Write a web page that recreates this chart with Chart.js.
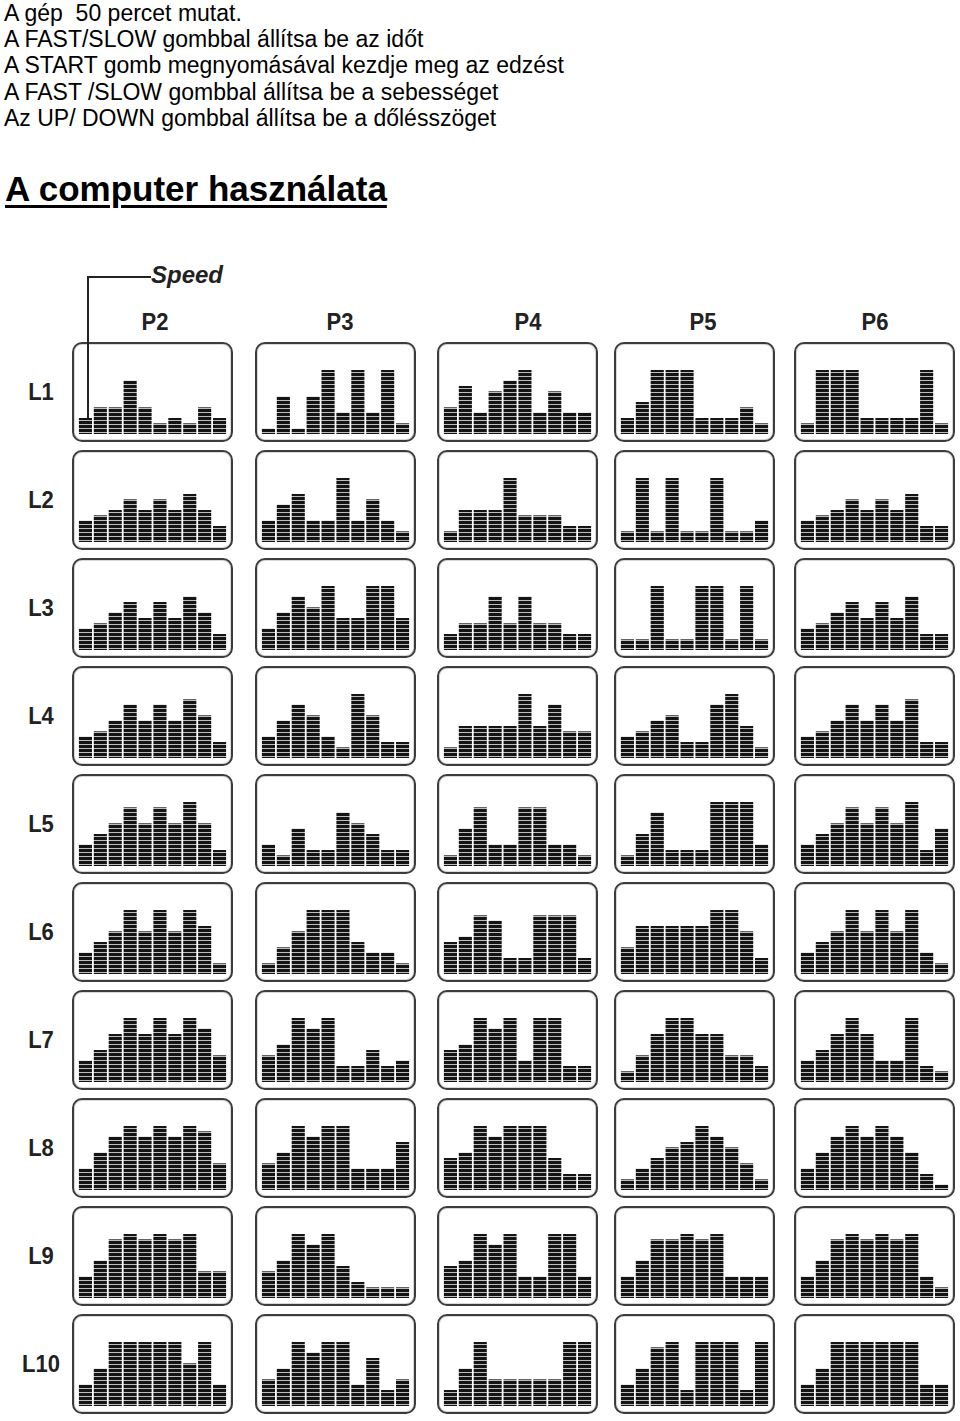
<!DOCTYPE html>
<html>
<head>
<meta charset="utf-8">
<script src="https://cdn.jsdelivr.net/npm/chart.js@4/dist/chart.umd.min.js"></script>
<style>
  body { margin: 0; background: #fff; width: 960px; height: 1421px; position: relative; overflow: hidden; }
  .intro { position: absolute; left: 4px; top: 0; font-family: "Liberation Sans", Arial, sans-serif; font-size: 23px; line-height: 26.2px; white-space: pre; color: #000; }
  .title { position: absolute; left: 5px; top: 169px; font-family: "Liberation Sans", Arial, sans-serif; font-weight: bold; font-size: 35px; text-decoration: underline; text-decoration-thickness: 3px; text-underline-offset: 4px; color: #000; }
  .lbl { position: absolute; font-family: "Liberation Sans Narrow", "Liberation Sans", Arial, sans-serif; font-weight: bold; font-size: 22px; color: #222; transform: translate(-50%, -50%) scaleY(1.05); }
  .speed { position: absolute; left: 151px; top: 261px; font-family: "Liberation Sans Narrow", "Liberation Sans", Arial, sans-serif; font-weight: bold; font-style: italic; font-size: 24px; color: #222; }
  .line { position: absolute; background: #222; }
  .frame { position: absolute; width: 157px; height: 96px; border: 2px solid #3c3c3c; border-radius: 10px; box-shadow: inset 0 0 0 1px #d8d8d8; }
  .frame canvas { position: absolute; left: 0; top: 0; }
</style>
</head>
<body>
<div class="intro">A gép  50 percet mutat.
A FAST/SLOW gombbal állítsa be az időt
A START gomb megnyomásával kezdje meg az edzést
A FAST /SLOW gombbal állítsa be a sebességet
Az UP/ DOWN gombbal állítsa be a dőlésszöget</div>
<div class="title">A computer használata</div>
<div class="speed">Speed</div>
<div id="grid"></div>
<div class="line" style="left:87px; top:276px; width:64px; height:2px;"></div>
<div class="line" style="left:87px; top:276px; width:2px; height:142px; z-index:5;"></div>
<script>
const programs = ['P2', 'P3', 'P4', 'P5', 'P6'];
const levels = ['L1', 'L2', 'L3', 'L4', 'L5', 'L6', 'L7', 'L8', 'L9', 'L10'];
const segments = ['1', '2', '3', '4', '5', '6', '7', '8', '9', '10'];
const maxSpeed = 12;

// speed profile per level (rows L1..L10), one list per program
const p2 = [
  [3, 5, 5, 10, 5, 2, 3, 2, 5, 3],
  [4, 5, 6, 8, 6, 8, 6, 9, 6, 3],
  [4, 5, 7, 9, 6, 9, 6, 10, 7, 3],
  [4, 5, 7, 10, 7, 10, 7, 11, 8, 3],
  [4, 6, 8, 11, 8, 11, 8, 12, 8, 3],
  [4, 6, 8, 12, 8, 12, 8, 12, 9, 2],
  [4, 6, 9, 12, 9, 12, 9, 12, 10, 5],
  [4, 7, 10, 12, 10, 12, 10, 12, 11, 5],
  [4, 7, 11, 12, 11, 12, 11, 12, 5, 5],
  [4, 7, 12, 12, 12, 12, 12, 8, 12, 4]
];
const p3 = [
  [1, 7, 1, 7, 12, 4, 12, 4, 12, 2],
  [4, 7, 9, 4, 4, 12, 4, 8, 4, 2],
  [4, 7, 10, 8, 12, 6, 6, 12, 12, 6],
  [4, 7, 10, 8, 4, 2, 12, 8, 3, 3],
  [4, 2, 7, 3, 3, 10, 8, 6, 3, 3],
  [2, 5, 8, 12, 12, 12, 6, 4, 4, 2],
  [5, 7, 12, 10, 12, 3, 3, 6, 3, 4],
  [5, 7, 12, 10, 12, 12, 4, 4, 4, 9],
  [5, 7, 12, 10, 12, 6, 3, 2, 2, 2],
  [5, 7, 12, 10, 12, 12, 4, 9, 3, 5]
];
const p4 = [
  [5, 9, 4, 8, 10, 12, 4, 8, 4, 4],
  [2, 6, 6, 6, 12, 5, 5, 5, 3, 3],
  [3, 5, 5, 10, 5, 10, 5, 5, 3, 3],
  [2, 6, 6, 6, 6, 12, 6, 10, 5, 5],
  [2, 7, 11, 4, 4, 11, 11, 4, 4, 2],
  [6, 7, 11, 10, 3, 3, 11, 11, 11, 3],
  [6, 7, 12, 10, 12, 4, 12, 12, 3, 3],
  [6, 7, 12, 10, 12, 12, 12, 6, 3, 3],
  [6, 7, 12, 10, 12, 4, 4, 12, 12, 4],
  [3, 7, 12, 5, 5, 5, 5, 5, 12, 12]
];
const p5 = [
  [3, 6, 12, 12, 12, 3, 3, 3, 5, 2],
  [2, 12, 2, 12, 2, 2, 12, 2, 2, 4],
  [2, 2, 12, 2, 2, 12, 12, 2, 12, 2],
  [4, 5, 7, 8, 3, 3, 10, 12, 6, 2],
  [2, 6, 10, 3, 3, 3, 12, 12, 12, 4],
  [5, 9, 9, 9, 9, 9, 12, 12, 8, 3],
  [2, 5, 9, 12, 12, 9, 9, 5, 5, 3],
  [2, 4, 6, 8, 9, 12, 10, 8, 5, 2],
  [4, 7, 11, 11, 12, 11, 12, 4, 4, 4],
  [4, 7, 11, 12, 3, 12, 12, 12, 3, 12]
];
const p6 = [
  [2, 12, 12, 12, 3, 3, 3, 3, 12, 2],
  [4, 5, 6, 8, 6, 8, 6, 9, 3, 3],
  [4, 5, 7, 9, 6, 9, 6, 10, 3, 3],
  [4, 5, 7, 10, 7, 10, 7, 11, 3, 3],
  [4, 6, 8, 11, 8, 11, 8, 12, 3, 7],
  [4, 6, 8, 12, 8, 12, 8, 12, 4, 2],
  [4, 6, 9, 12, 9, 4, 4, 12, 3, 2],
  [4, 7, 10, 12, 10, 12, 10, 7, 3, 1],
  [4, 7, 11, 12, 11, 12, 11, 12, 4, 2],
  [4, 7, 12, 12, 12, 12, 12, 12, 4, 4]
];
const programData = [p2, p3, p4, p5, p6];

const colLeft = [72, 255, 437, 614, 794];
const colHeadX = [155, 340, 528, 703, 875];
const rowTop = [342, 450, 558, 666, 774, 882, 990, 1098, 1206, 1314];

function stripes() {
  const c = document.createElement('canvas');
  c.width = 4; c.height = 4;
  const g = c.getContext('2d');
  g.fillStyle = '#bdbdbd';
  g.fillRect(0, 0, 4, 4);
  g.fillStyle = '#141414';
  g.fillRect(0, 1, 4, 3);
  return g.createPattern(c, 'repeat');
}
const barFill = stripes();

const grid = document.getElementById('grid');

programs.forEach((p, i) => {
  const h = document.createElement('div');
  h.className = 'lbl';
  h.style.left = colHeadX[i] + 'px';
  h.style.top = '323px';
  h.textContent = p;
  grid.appendChild(h);
});

levels.forEach((l, j) => {
  const r = document.createElement('div');
  r.className = 'lbl';
  r.style.left = '41px';
  r.style.top = (rowTop[j] + 51) + 'px';
  r.textContent = l;
  grid.appendChild(r);
});

levels.forEach((l, j) => {
  programs.forEach((p, i) => {
    const box = document.createElement('div');
    box.className = 'frame';
    box.style.left = colLeft[i] + 'px';
    box.style.top = rowTop[j] + 'px';
    const cv = document.createElement('canvas');
    cv.width = 157;
    cv.height = 96;
    box.appendChild(cv);
    grid.appendChild(box);

    new Chart(cv.getContext('2d'), {
      type: 'bar',
      data: {
        labels: segments,
        datasets: [{
          data: programData[i][j],
          backgroundColor: barFill,
          borderWidth: 0,
          barPercentage: 0.88,
          categoryPercentage: 1.0
        }]
      },
      options: {
        responsive: false,
        animation: false,
        devicePixelRatio: 1,
        layout: { padding: { left: 4, right: 4, top: 26, bottom: 6 } },
        plugins: { legend: { display: false }, tooltip: { enabled: false } },
        scales: {
          x: { display: false },
          y: { display: false, min: 0, max: maxSpeed }
        }
      }
    });
  });
});
</script>
</body>
</html>
